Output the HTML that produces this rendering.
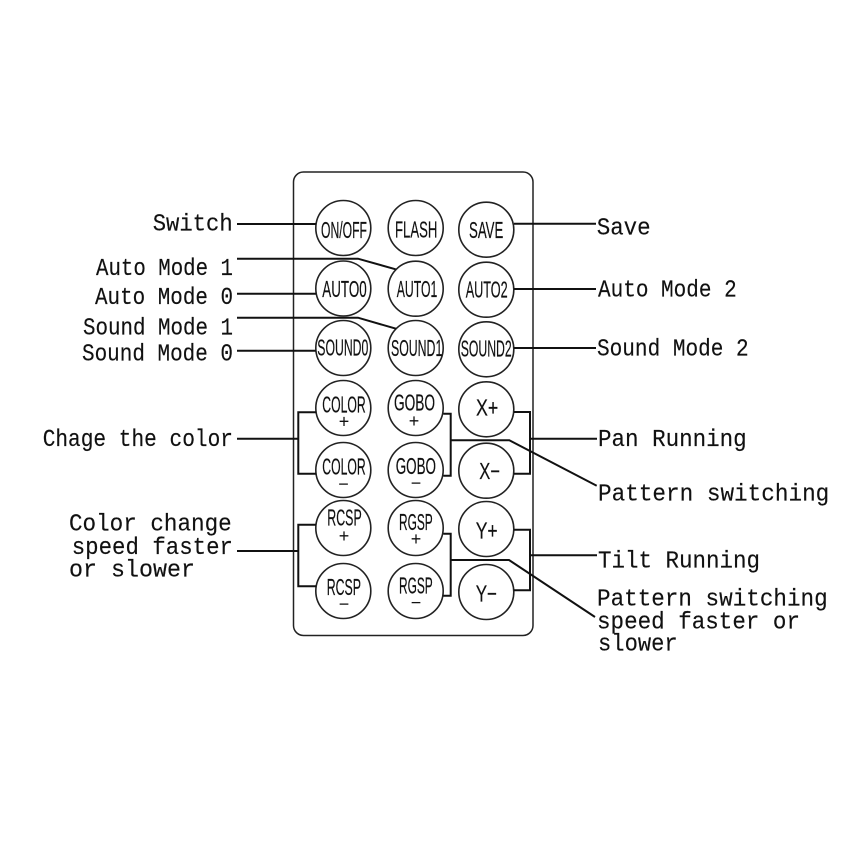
<!DOCTYPE html>
<html><head><meta charset="utf-8"><style>
html,body{margin:0;padding:0;background:#fff;width:867px;height:867px;overflow:hidden}
svg{display:block}
.l{font-family:"Liberation Mono",monospace;font-size:24.5px;fill:#111;stroke:#111;stroke-width:.15}
.b{font-family:"Liberation Sans",sans-serif;font-size:23px;fill:#111;stroke:#111;stroke-width:.2}
.s{font-family:"Liberation Sans",sans-serif;font-size:18px;fill:#111;text-anchor:middle}
</style></head><body>
<svg width="867" height="867" viewBox="0 0 867 867" xmlns="http://www.w3.org/2000/svg">
<rect width="867" height="867" fill="#fff"/>
<rect x="293.5" y="172" width="239.5" height="463.5" rx="10" fill="none" stroke="#222" stroke-width="1.5"/>
<g fill="#fff" stroke="#222" stroke-width="1.6">
<circle cx="343.3" cy="228" r="27.5"/><circle cx="343.3" cy="288.5" r="27.5"/><circle cx="343.3" cy="348" r="27.5"/><circle cx="343.3" cy="408" r="27.5"/><circle cx="343.3" cy="470" r="27.5"/><circle cx="343.3" cy="528" r="27.5"/><circle cx="343.3" cy="591" r="27.5"/>
<circle cx="415.7" cy="228" r="27.5"/><circle cx="415.7" cy="288.7" r="27.5"/><circle cx="415.7" cy="348" r="27.5"/><circle cx="415.7" cy="408" r="27.5"/><circle cx="415.7" cy="470" r="27.5"/><circle cx="415.7" cy="528" r="27.5"/><circle cx="415.7" cy="591" r="27.5"/>
<circle cx="486.3" cy="229.7" r="27.5"/><circle cx="486.3" cy="289.7" r="27.5"/><circle cx="486.3" cy="349.3" r="27.5"/><circle cx="486.3" cy="409.3" r="27.5"/><circle cx="486.3" cy="470.7" r="27.5"/><circle cx="486.3" cy="529" r="27.5"/><circle cx="486.3" cy="592" r="27.5"/>
</g>
<g fill="none" stroke="#111" stroke-width="2">
<path d="M237 224H316"/>
<path d="M237 258.7H358L395.7 269.3"/>
<path d="M237 293.7H316"/>
<path d="M237 317.7H358L396 328.7"/>
<path d="M237 350.7H316"/>
<path d="M514 223.7H596"/>
<path d="M514 289H596"/>
<path d="M514 348H596"/>
<path d="M316 412.3H298.3V473.7H316"/>
<path d="M237 438.7H298.3"/>
<path d="M316 524.7H298.3V586.3H316"/>
<path d="M237 551H298.3"/>
<path d="M443.3 413.7H450.7V475.7H443.3"/>
<path d="M450.7 440.3H509.3L596.7 485.7"/>
<path d="M443.3 533.7H450.7V595.7H443.3"/>
<path d="M450.7 560H509L595 617"/>
<path d="M514 412H530V473.7H514"/>
<path d="M530 438.7H597"/>
<path d="M514 529.7H530V590.3H514"/>
<path d="M530 555.3H597"/>
</g>
<text class="b" x="321" y="238" textLength="46" lengthAdjust="spacingAndGlyphs">ON/OFF</text>
<text class="b" x="395" y="237.7" textLength="42.3" lengthAdjust="spacingAndGlyphs">FLASH</text>
<text class="b" x="469" y="238" textLength="34.3" lengthAdjust="spacingAndGlyphs">SAVE</text>
<text class="b" x="322.3" y="297" textLength="44.4" lengthAdjust="spacingAndGlyphs">AUTO0</text>
<text class="b" x="396.7" y="297" textLength="40.6" lengthAdjust="spacingAndGlyphs">AUTO1</text>
<text class="b" x="465.7" y="297.7" textLength="42" lengthAdjust="spacingAndGlyphs">AUTO2</text>
<text class="b" x="317.3" y="355.7" textLength="51" lengthAdjust="spacingAndGlyphs">SOUND0</text>
<text class="b" x="391" y="356" textLength="51.3" lengthAdjust="spacingAndGlyphs">SOUND1</text>
<text class="b" x="460.7" y="356.7" textLength="51" lengthAdjust="spacingAndGlyphs">SOUND2</text>
<text class="b" x="322.3" y="412.3" textLength="43.4" lengthAdjust="spacingAndGlyphs">COLOR</text>
<text class="b" x="394" y="410.7" textLength="41" lengthAdjust="spacingAndGlyphs">GOBO</text>
<text class="b" x="476" y="415.3" textLength="22.3" lengthAdjust="spacingAndGlyphs">X+</text>
<text class="b" x="322.3" y="474.7" textLength="43.4" lengthAdjust="spacingAndGlyphs">COLOR</text>
<text class="b" x="395.7" y="474" textLength="40.3" lengthAdjust="spacingAndGlyphs">GOBO</text>
<text class="b" x="479.3" y="479" textLength="20.7" lengthAdjust="spacingAndGlyphs">X−</text>
<text class="b" x="327.3" y="525.7" textLength="34.4" lengthAdjust="spacingAndGlyphs">RCSP</text>
<text class="b" x="399" y="530" textLength="33.7" lengthAdjust="spacingAndGlyphs">RGSP</text>
<text class="b" x="475.7" y="538.3" textLength="22" lengthAdjust="spacingAndGlyphs">Y+</text>
<text class="b" x="326.7" y="595" textLength="34.3" lengthAdjust="spacingAndGlyphs">RCSP</text>
<text class="b" x="399" y="593.3" textLength="33.7" lengthAdjust="spacingAndGlyphs">RGSP</text>
<text class="b" x="475.7" y="601.7" textLength="21.3" lengthAdjust="spacingAndGlyphs">Y−</text>
<text class="s" x="344" y="427.5">+</text>
<text class="s" x="414" y="426.8">+</text>
<text class="s" x="344" y="541.8">+</text>
<text class="s" x="416" y="545.1">+</text>
<text class="s" x="343.5" y="490">−</text>
<text class="s" x="416" y="489">−</text>
<text class="s" x="344" y="610">−</text>
<text class="s" x="416" y="608.7">−</text>
<text class="l" x="152.7" y="230.7" textLength="80" lengthAdjust="spacingAndGlyphs">Switch</text>
<text class="l" x="96" y="275" textLength="137" lengthAdjust="spacingAndGlyphs">Auto Mode 1</text>
<text class="l" x="95" y="304" textLength="138" lengthAdjust="spacingAndGlyphs">Auto Mode 0</text>
<text class="l" x="83" y="334.7" textLength="150" lengthAdjust="spacingAndGlyphs">Sound Mode 1</text>
<text class="l" x="82" y="360.7" textLength="151" lengthAdjust="spacingAndGlyphs">Sound Mode 0</text>
<text class="l" x="42.7" y="446" textLength="190.3" lengthAdjust="spacingAndGlyphs">Chage the color</text>
<text class="l" x="69" y="530.7" textLength="162.7" lengthAdjust="spacingAndGlyphs">Color change</text>
<text class="l" x="71.7" y="554" textLength="161.3" lengthAdjust="spacingAndGlyphs">speed faster</text>
<text class="l" x="69" y="576.7" textLength="126" lengthAdjust="spacingAndGlyphs">or slower</text>
<text class="l" x="596.7" y="234.3" textLength="54" lengthAdjust="spacingAndGlyphs">Save</text>
<text class="l" x="598" y="296.7" textLength="138.7" lengthAdjust="spacingAndGlyphs">Auto Mode 2</text>
<text class="l" x="597" y="355.7" textLength="151.7" lengthAdjust="spacingAndGlyphs">Sound Mode 2</text>
<text class="l" x="598" y="446" textLength="148.7" lengthAdjust="spacingAndGlyphs">Pan Running</text>
<text class="l" x="598" y="500.7" textLength="231.3" lengthAdjust="spacingAndGlyphs">Pattern switching</text>
<text class="l" x="598" y="567.3" textLength="162" lengthAdjust="spacingAndGlyphs">Tilt Running</text>
<text class="l" x="597" y="605.7" textLength="230.7" lengthAdjust="spacingAndGlyphs">Pattern switching</text>
<text class="l" x="597" y="628.3" textLength="203" lengthAdjust="spacingAndGlyphs">speed faster or</text>
<text class="l" x="598" y="650.7" textLength="79.7" lengthAdjust="spacingAndGlyphs">slower</text>
</svg>
</body></html>
